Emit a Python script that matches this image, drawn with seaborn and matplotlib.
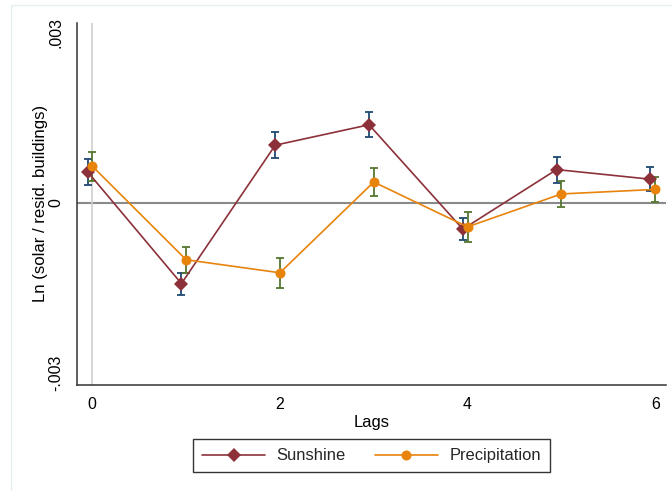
import numpy as np
import pandas as pd
import matplotlib
matplotlib.use("Agg")
import matplotlib.pyplot as plt
from matplotlib.patches import Rectangle
import seaborn as sns

# Estimated coefficients by lag with half-widths of the confidence bands
lags = [0, 1, 2, 3, 4, 5, 6]
sunshine_coef = [0.00055, -0.00142, 0.00102, 0.00138, -0.00046, 0.00059, 0.00042]
sunshine_err = [0.000235, 0.000194, 0.000224, 0.000217, 0.000200, 0.000230, 0.000212]
precip_coef = [0.00065, -0.00100, -0.00123, 0.00037, -0.00042, 0.00016, 0.00024]
precip_err = [0.000256, 0.000233, 0.000265, 0.000252, 0.000261, 0.000233, 0.000217]

series_names = ["Sunshine", "Precipitation"]
y_ticks = [-0.003, 0.0, 0.003]
y_tick_labels = ["-.003", "0", ".003"]
x_ticks = [0, 2, 4, 6]

line_colors = {"Sunshine": "#8C3139", "Precipitation": "#E8830C"}
ci_colors = {"Sunshine": "#1F4A72", "Precipitation": "#55762F"}
markers = {"Sunshine": "D", "Precipitation": "o"}
dodge = {"Sunshine": -0.05, "Precipitation": 0.0}

df = pd.concat([
    pd.DataFrame({"lag": lags, "coef": sunshine_coef, "err": sunshine_err,
                  "series": "Sunshine"}),
    pd.DataFrame({"lag": lags, "coef": precip_coef, "err": precip_err,
                  "series": "Precipitation"}),
], ignore_index=True)
df["xpos"] = df["lag"] + df["series"].map(dodge)

sns.set_theme(style="white")
plt.rcParams["font.family"] = ["Liberation Sans", "DejaVu Sans"]

fig = plt.figure(figsize=(6.72, 4.91), dpi=100)
fig.patch.set_facecolor("white")
ax = fig.add_axes([0.1146, 0.2169, 0.8765, 0.7363])

# faint outer graph-region border
fig.patches.append(Rectangle((11 / 672, -0.05), 1.2, (491 - 5) / 491 + 0.05,
                             transform=fig.transFigure, fill=False,
                             edgecolor="#e6eef0", linewidth=1.0, zorder=0))

# reference lines
ax.axhline(0, color="#8a8a8a", linewidth=1.5, zorder=1)
ax.axvline(0, color="#cfcfcf", linewidth=1.2, zorder=1)

# confidence intervals as capped bars
for name in series_names:
    sub = df[df["series"] == name]
    ax.errorbar(sub["xpos"], sub["coef"], yerr=sub["err"], fmt="none",
                ecolor=ci_colors[name], elinewidth=1.3, capsize=3.0,
                capthick=1.3, zorder=2)

sns.lineplot(data=df, x="xpos", y="coef", hue="series", style="series",
             hue_order=series_names, style_order=series_names,
             palette=line_colors, markers=markers, dashes=False,
             estimator=None, sort=False, linewidth=1.2,
             markersize=7.2, markeredgewidth=0, ax=ax, zorder=3)

for line in ax.lines:
    if line.get_marker() == "D":
        line.set_markersize(6.8)

ax.set_xlim(-0.163, 6.116)
ax.set_ylim(-0.0032, 0.003175)
ax.set_xticks(x_ticks)
ax.set_xticklabels([str(t) for t in x_ticks])
ax.set_yticks(y_ticks)
ax.set_yticklabels(y_tick_labels, rotation=90, va="center")

ax.tick_params(axis="both", which="major", direction="out", length=4.7,
               width=1.0, color="#333333", labelsize=11.4, labelcolor="black")
ax.tick_params(axis="x", pad=4.0)
ax.tick_params(axis="y", pad=5.0)

for side in ["top", "right"]:
    ax.spines[side].set_visible(False)
for side in ["left", "bottom"]:
    ax.spines[side].set_color("#333333")
    ax.spines[side].set_linewidth(1.1)

ax.set_xlabel("Lags", fontsize=11.9, color="black")
ax.set_ylabel("Ln (solar / resid. buildings)", fontsize=12.1, color="black")
ax.xaxis.set_label_coords(0.5, -0.085)
ax.yaxis.set_label_coords(-0.049, 0.5)
ax.grid(False)

handles, labels = ax.get_legend_handles_labels()
leg = ax.legend(handles, labels, loc="center", ncol=2,
                bbox_to_anchor=(0.553, 0.0715), bbox_transform=fig.transFigure,
                frameon=True, fancybox=False, shadow=False, fontsize=11.9,
                handlelength=3.8, handletextpad=0.7, columnspacing=1.75,
                borderpad=0.55)
leg.get_frame().set_edgecolor("black")
leg.get_frame().set_linewidth(1.0)
for h in leg.legend_handles:
    h.set_linewidth(1.2)

fig.savefig("out.png", dpi=100, facecolor="white")
